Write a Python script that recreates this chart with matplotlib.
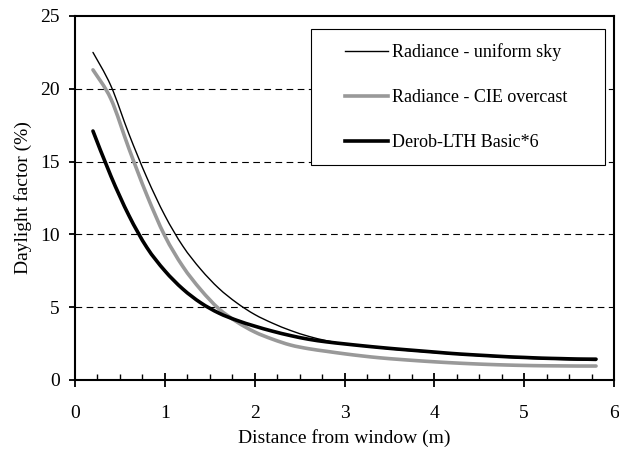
import matplotlib
matplotlib.use("Agg")
import matplotlib.pyplot as plt
from matplotlib.patches import Rectangle, PathPatch
from matplotlib.path import Path
from matplotlib.lines import Line2D
from matplotlib.ticker import MultipleLocator

plt.rcParams['font.family'] = ['Liberation Serif', 'DejaVu Serif']

distance = [0.2, 0.4, 0.6, 0.8, 1.0, 1.2, 1.4, 1.6, 1.8, 2.0, 2.2, 2.4, 2.6, 2.8, 3.0,
            3.2, 3.4, 3.6, 3.8, 4.0, 4.2, 4.4, 4.6, 4.8, 5.0, 5.2, 5.4, 5.6, 5.8]
uniform_sky = [22.5, 20.2, 16.9, 13.9, 11.3, 9.2, 7.6, 6.3, 5.3, 4.5, 3.9, 3.4, 3.0, 2.7, 2.48,
               2.33, 2.2, 2.08, 1.98, 1.88, 1.79, 1.71, 1.63, 1.56, 1.5, 1.45, 1.41, 1.37, 1.34]
cie_overcast = [21.3, 19.3, 15.9, 12.7, 9.9, 7.8, 6.2, 4.9, 4.0, 3.3, 2.8, 2.4, 2.15, 1.97, 1.8,
                1.65, 1.52, 1.42, 1.33, 1.25, 1.18, 1.12, 1.07, 1.03, 1.0, 0.98, 0.97, 0.96, 0.96]
derob = [17.1, 14.0, 11.3, 9.1, 7.5, 6.25, 5.3, 4.6, 4.1, 3.7, 3.35, 3.05, 2.8, 2.62, 2.48,
         2.35, 2.23, 2.12, 2.02, 1.92, 1.82, 1.74, 1.67, 1.6, 1.55, 1.5, 1.47, 1.44, 1.43]

labels = ["Radiance - uniform sky", "Radiance - CIE overcast", "Derob-LTH Basic*6"]
x_ticks = [0, 1, 2, 3, 4, 5, 6]
y_ticks = [0, 5, 10, 15, 20, 25]


def smooth_path(xs, ys):
    """Excel-style smoothed line: Catmull-Rom segments as cubic Beziers."""
    pts = list(zip(xs, ys))
    n = len(pts)
    verts = [pts[0]]
    codes = [Path.MOVETO]
    for i in range(n - 1):
        p0 = pts[i - 1] if i > 0 else pts[i]
        p1 = pts[i]
        p2 = pts[i + 1]
        p3 = pts[i + 2] if i + 2 < n else pts[i + 1]
        c1 = (p1[0] + (p2[0] - p0[0]) / 6, p1[1] + (p2[1] - p0[1]) / 6)
        c2 = (p2[0] - (p3[0] - p1[0]) / 6, p2[1] - (p3[1] - p1[1]) / 6)
        verts += [c1, c2, p2]
        codes += [Path.CURVE4, Path.CURVE4, Path.CURVE4]
    return Path(verts, codes)


fig = plt.figure(figsize=(6.19, 4.54), dpi=100)
ax = fig.add_axes([75/619, 1-380/454, 539/619, 364/454])

for yv in y_ticks[1:-1]:
    ax.axhline(yv, color='black', lw=0.8, dashes=(6, 4), zorder=1)

styles = [dict(color='black', lw=1.0, z=5),
          dict(color='#999999', lw=2.6, z=3),
          dict(color='black', lw=2.6, z=4)]
handles = []
for ys, st in zip([uniform_sky, cie_overcast, derob], styles):
    patch = PathPatch(smooth_path(distance, ys), facecolor='none', edgecolor=st['color'],
                      lw=st['lw'], zorder=st['z'], capstyle='round', joinstyle='round')
    ax.add_patch(patch)
    handles.append(Line2D([], [], color=st['color'], lw=st['lw']))

ax.set_xlim(0, 6)
ax.set_ylim(0, 25)
ax.set_xticks(x_ticks)
ax.set_yticks(y_ticks)
ax.xaxis.set_minor_locator(MultipleLocator(0.25))
ax.tick_params(axis='x', which='major', direction='inout', length=10, width=1.3,
               labelsize=14, pad=13)
ax.tick_params(axis='x', which='minor', direction='in', length=4, width=1.0)
ax.tick_params(axis='y', which='major', direction='out', length=4, width=1.3,
               labelsize=14, pad=7)
for s in ax.spines.values():
    s.set_linewidth(1.5)

ax.set_xlabel("Distance from window (m)", fontsize=14, labelpad=5)
ax.set_ylabel("Daylight factor (%)", fontsize=14, labelpad=6)

rect = Rectangle((236/539, (380-165)/364), 294/539, 136/364, transform=ax.transAxes,
                 facecolor='white', edgecolor='black', lw=0.8, zorder=6)
ax.add_patch(rect)
leg = ax.legend(handles, labels, loc='upper left',
                bbox_to_anchor=((345-75)/539, (380-43)/364), frameon=False,
                borderpad=0, borderaxespad=0, handlelength=2.4, handletextpad=0.2,
                labelspacing=1.55, fontsize=13)
leg.set_zorder(7)

fig.savefig("out.png", dpi=100)
